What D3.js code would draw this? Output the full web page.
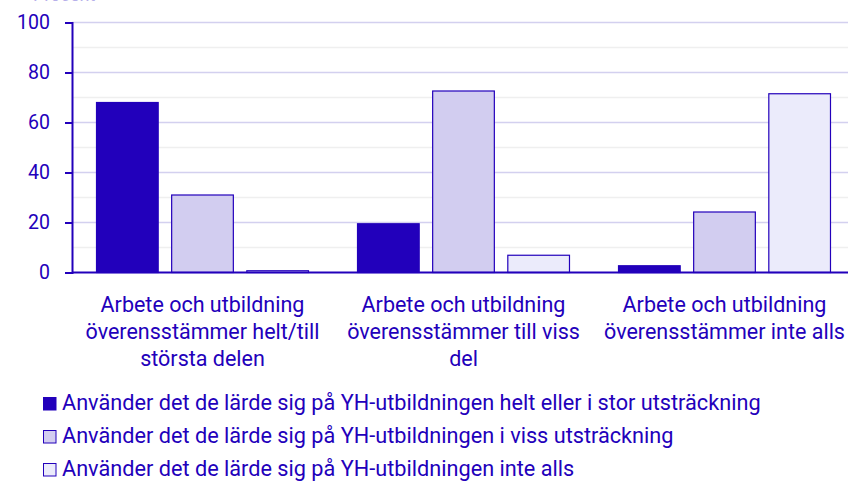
<!DOCTYPE html>
<html><head><meta charset="utf-8">
<script src="https://cdn.jsdelivr.net/npm/d3@7"></script>
<style>
html,body{margin:0;padding:0;background:#fff;}
svg{display:block;font-family:Roboto,"Noto Sans",sans-serif;}
</style></head>
<body><svg id="chart" width="848" height="484"></svg>
<script>
const categories = [
  "Arbete och utbildning överensstämmer helt/till största delen",
  "Arbete och utbildning överensstämmer till viss del",
  "Arbete och utbildning överensstämmer inte alls"
];
const seriesNames = [
  "Använder det de lärde sig på YH-utbildningen helt eller i stor utsträckning",
  "Använder det de lärde sig på YH-utbildningen i viss utsträckning",
  "Använder det de lärde sig på YH-utbildningen inte alls"
];
const seriesHelt = [68, 19.5, 2.7];
const seriesViss = [31, 72.6, 24.2];
const seriesInte = [0.7, 6.9, 71.5];
const yTicks = [0, 20, 40, 60, 80, 100];
const yMinor = [10, 30, 50, 70, 90];
const yTitle = "Procent";

const seriesValues = [seriesHelt, seriesViss, seriesInte];
const fills = ["#2200bb", "#d2cdf0", "#ebebfb"];
const ink = "#2200bb";

const svg = d3.select("#chart");
const mLeft = 72, mRight = 855, mTop = 22.5, mBottom = 272.5;

const y = d3.scaleLinear().domain([0, 100]).range([mBottom, mTop]);
const x0 = d3.scaleBand().domain(categories).range([mLeft, mRight]).paddingInner(0.184).paddingOuter(0.092);
const x1 = d3.scaleBand().domain(d3.range(seriesNames.length)).range([0, x0.bandwidth()]).paddingInner(0.166);

// gridlines
svg.append("g").selectAll("line").data(yMinor).join("line")
  .attr("x1", mLeft).attr("x2", 848)
  .attr("y1", d => y(d)).attr("y2", d => y(d))
  .attr("stroke", "#efefef").attr("stroke-width", 1.5);
svg.append("g").selectAll("line").data(yTicks.filter(d => d > 0)).join("line")
  .attr("x1", mLeft).attr("x2", 848)
  .attr("y1", d => y(d)).attr("y2", d => y(d))
  .attr("stroke", "#d3d0ef").attr("stroke-width", 1.5);

// bars
const groups = svg.append("g").selectAll("g").data(categories).join("g")
  .attr("transform", d => `translate(${x0(d)},0)`);
groups.selectAll("rect").data((c, i) => seriesValues.map((s, k) => ({k, v: s[i]}))).join("rect")
  .attr("x", d => x1(d.k) + 0.5)
  .attr("width", x1.bandwidth() - 1)
  .attr("y", d => y(d.v))
  .attr("height", d => mBottom - y(d.v))
  .attr("fill", d => fills[d.k])
  .attr("stroke", ink).attr("stroke-width", 1.2);

// y axis
const yAxis = svg.append("g").attr("transform", `translate(${mLeft},0)`)
  .call(d3.axisLeft(y).tickValues(yTicks).tickSize(7).tickPadding(15));
yAxis.selectAll("path,line").attr("stroke", ink).attr("stroke-width", 2);
yAxis.selectAll("text").attr("fill", ink).style("font-size", "19.5px").style("font-family", "Roboto");

// x baseline
svg.append("line").attr("x1", mLeft).attr("x2", 848).attr("y1", mBottom).attr("y2", mBottom)
  .attr("stroke", ink).attr("stroke-width", 2);

// y title (partially clipped, as in the reference)
svg.append("text").attr("x", 33).attr("y", 1).attr("fill", "#b7b0ea")
  .style("font-size", "18px").text(yTitle);

// category labels with wrapping
function wrap(textSel, width) {
  textSel.each(function(d) {
    const t = d3.select(this);
    const words = d.split(/\s+/);
    let line = [];
    let tspan = t.append("tspan").attr("x", 0).attr("dy", 0);
    for (const w of words) {
      line.push(w);
      tspan.text(line.join(" "));
      if (tspan.node().getComputedTextLength() > width && line.length > 1) {
        line.pop();
        tspan.text(line.join(" "));
        line = [w];
        tspan = t.append("tspan").attr("x", 0).attr("dy", "27px").text(w);
      }
    }
  });
}
svg.append("g").selectAll("text").data(categories).join("text")
  .attr("transform", d => `translate(${x0(d) + x0.bandwidth() / 2},311.5)`)
  .attr("text-anchor", "middle").attr("fill", ink)
  .style("font-size", "21.5px")
  .call(wrap, 250);

// legend
const leg = svg.append("g").selectAll("g").data(seriesNames).join("g")
  .attr("transform", (d, i) => `translate(43,${397 + i * 33})`);
leg.append("rect").attr("x", 0.5).attr("y", 0.5).attr("width", 12.5).attr("height", 12.5)
  .attr("fill", (d, i) => fills[i]).attr("stroke", ink).attr("stroke-width", 1);
leg.append("text").attr("x", 19).attr("y", 12.5).attr("fill", ink)
  .style("font-size", "21.7px").text(d => d);
</script></body></html>
